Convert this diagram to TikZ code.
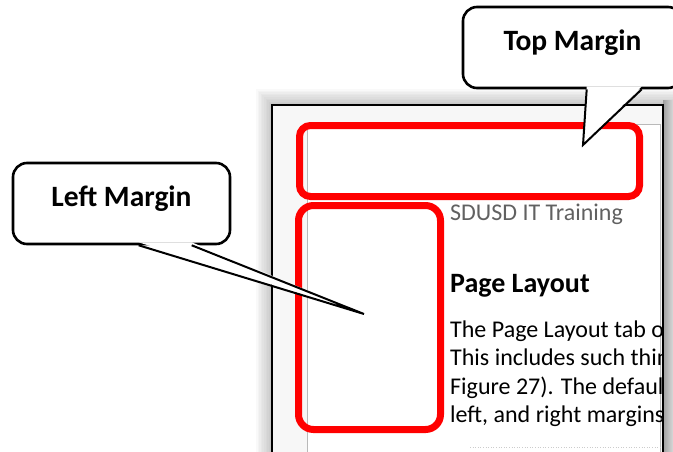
\documentclass[tikz,border=0pt]{standalone}
\usepackage{fontspec}
\setmainfont{Carlito}
\usetikzlibrary{calc}

\begin{document}
\begin{tikzpicture}[x=1pt,y=-1pt]
\tikzset{callbox/.style={draw=black,line width=2.6pt,rounded corners=14pt,fill=white,
           font=\fontsize{29.5}{33}\selectfont\bfseries,text height=19pt,text depth=14pt},
         pointer/.style={draw=black,line width=2pt},
         redbox/.style={draw=red,line width=7pt,rounded corners=11pt},
         bodyline/.style={anchor=base west,inner sep=0pt,font=\fontsize{24}{28}\selectfont}}
\useasboundingbox (0,0) rectangle (673,451);
% Page shadow
\foreach \i in {1,...,10}
  \fill[black,opacity=0.025] (272-1.6*\i,105-1.6*\i) rectangle (680,460);
\shade[left color=gray!75,right color=gray!30] (663,100) rectangle (673,451);
% Page
\fill[gray!6] (272,105) rectangle (663,460);
\fill[white] (307,124) rectangle (660,460);
\draw[gray!55,line width=0.8pt] (307,460) -- (307,124) -- (660,124) -- (660,460);
\draw[gray!40,line width=0.6pt,dotted] (470,447) -- (660,447);
\draw[black,line width=1.5pt] (272,460) -- (272,105) -- (663,105) -- (663,460);
% Page text
\begin{scope}
\clip (272,105) rectangle (662,451);
\node[bodyline,text=black!62] (header) at (450,220) {SDUSD IT Training};
\node[bodyline,font=\fontsize{28}{32}\selectfont\bfseries] (heading) at (450,292) {Page Layout};
\foreach \ln [count=\k] in {{The Page Layout tab o},{This includes such thin},
    {Figure 27). The defaul},{left, and right margins}}
  \node[bodyline] (body\k) at (450,{337+28.5*(\k-1)}) {\ln};
\end{scope}
% Margin boxes
\draw[redbox] (299.5,125.5) rectangle (639.5,196.5);
\draw[redbox,rounded corners=15pt] (298.5,205.5) rectangle (440.5,429.5);
% Top Margin callout
\node[callbox,minimum width=219pt,minimum height=81pt] (topcall) at (572.5,47.5) {Top Margin};
\coordinate (toptip) at (583,145);
\path (topcall.south west) ++(125,0) coordinate (topa)
      (topcall.south west) ++(180,0) coordinate (topb);
\fill[white] ($(topa)+(0,-3)$) -- (toptip) -- ($(topb)+(0,-3)$) -- cycle;
\draw[pointer] (topa) -- (toptip) -- (topb);
% Left Margin callout
\node[callbox,minimum width=217pt,minimum height=81pt] (leftcall) at (121.5,203.5) {Left Margin};
\coordinate (lefttip) at (364,314);
\path (leftcall.south west) ++(127,0) coordinate (lefta)
      (leftcall.south west) ++(180,0) coordinate (leftb);
\fill[white] ($(lefta)+(0,-3)$) -- (lefttip) -- ($(leftb)+(0,-3)$) -- cycle;
\draw[pointer] (lefta) -- (lefttip) -- (leftb);
\end{tikzpicture}
\end{document}
